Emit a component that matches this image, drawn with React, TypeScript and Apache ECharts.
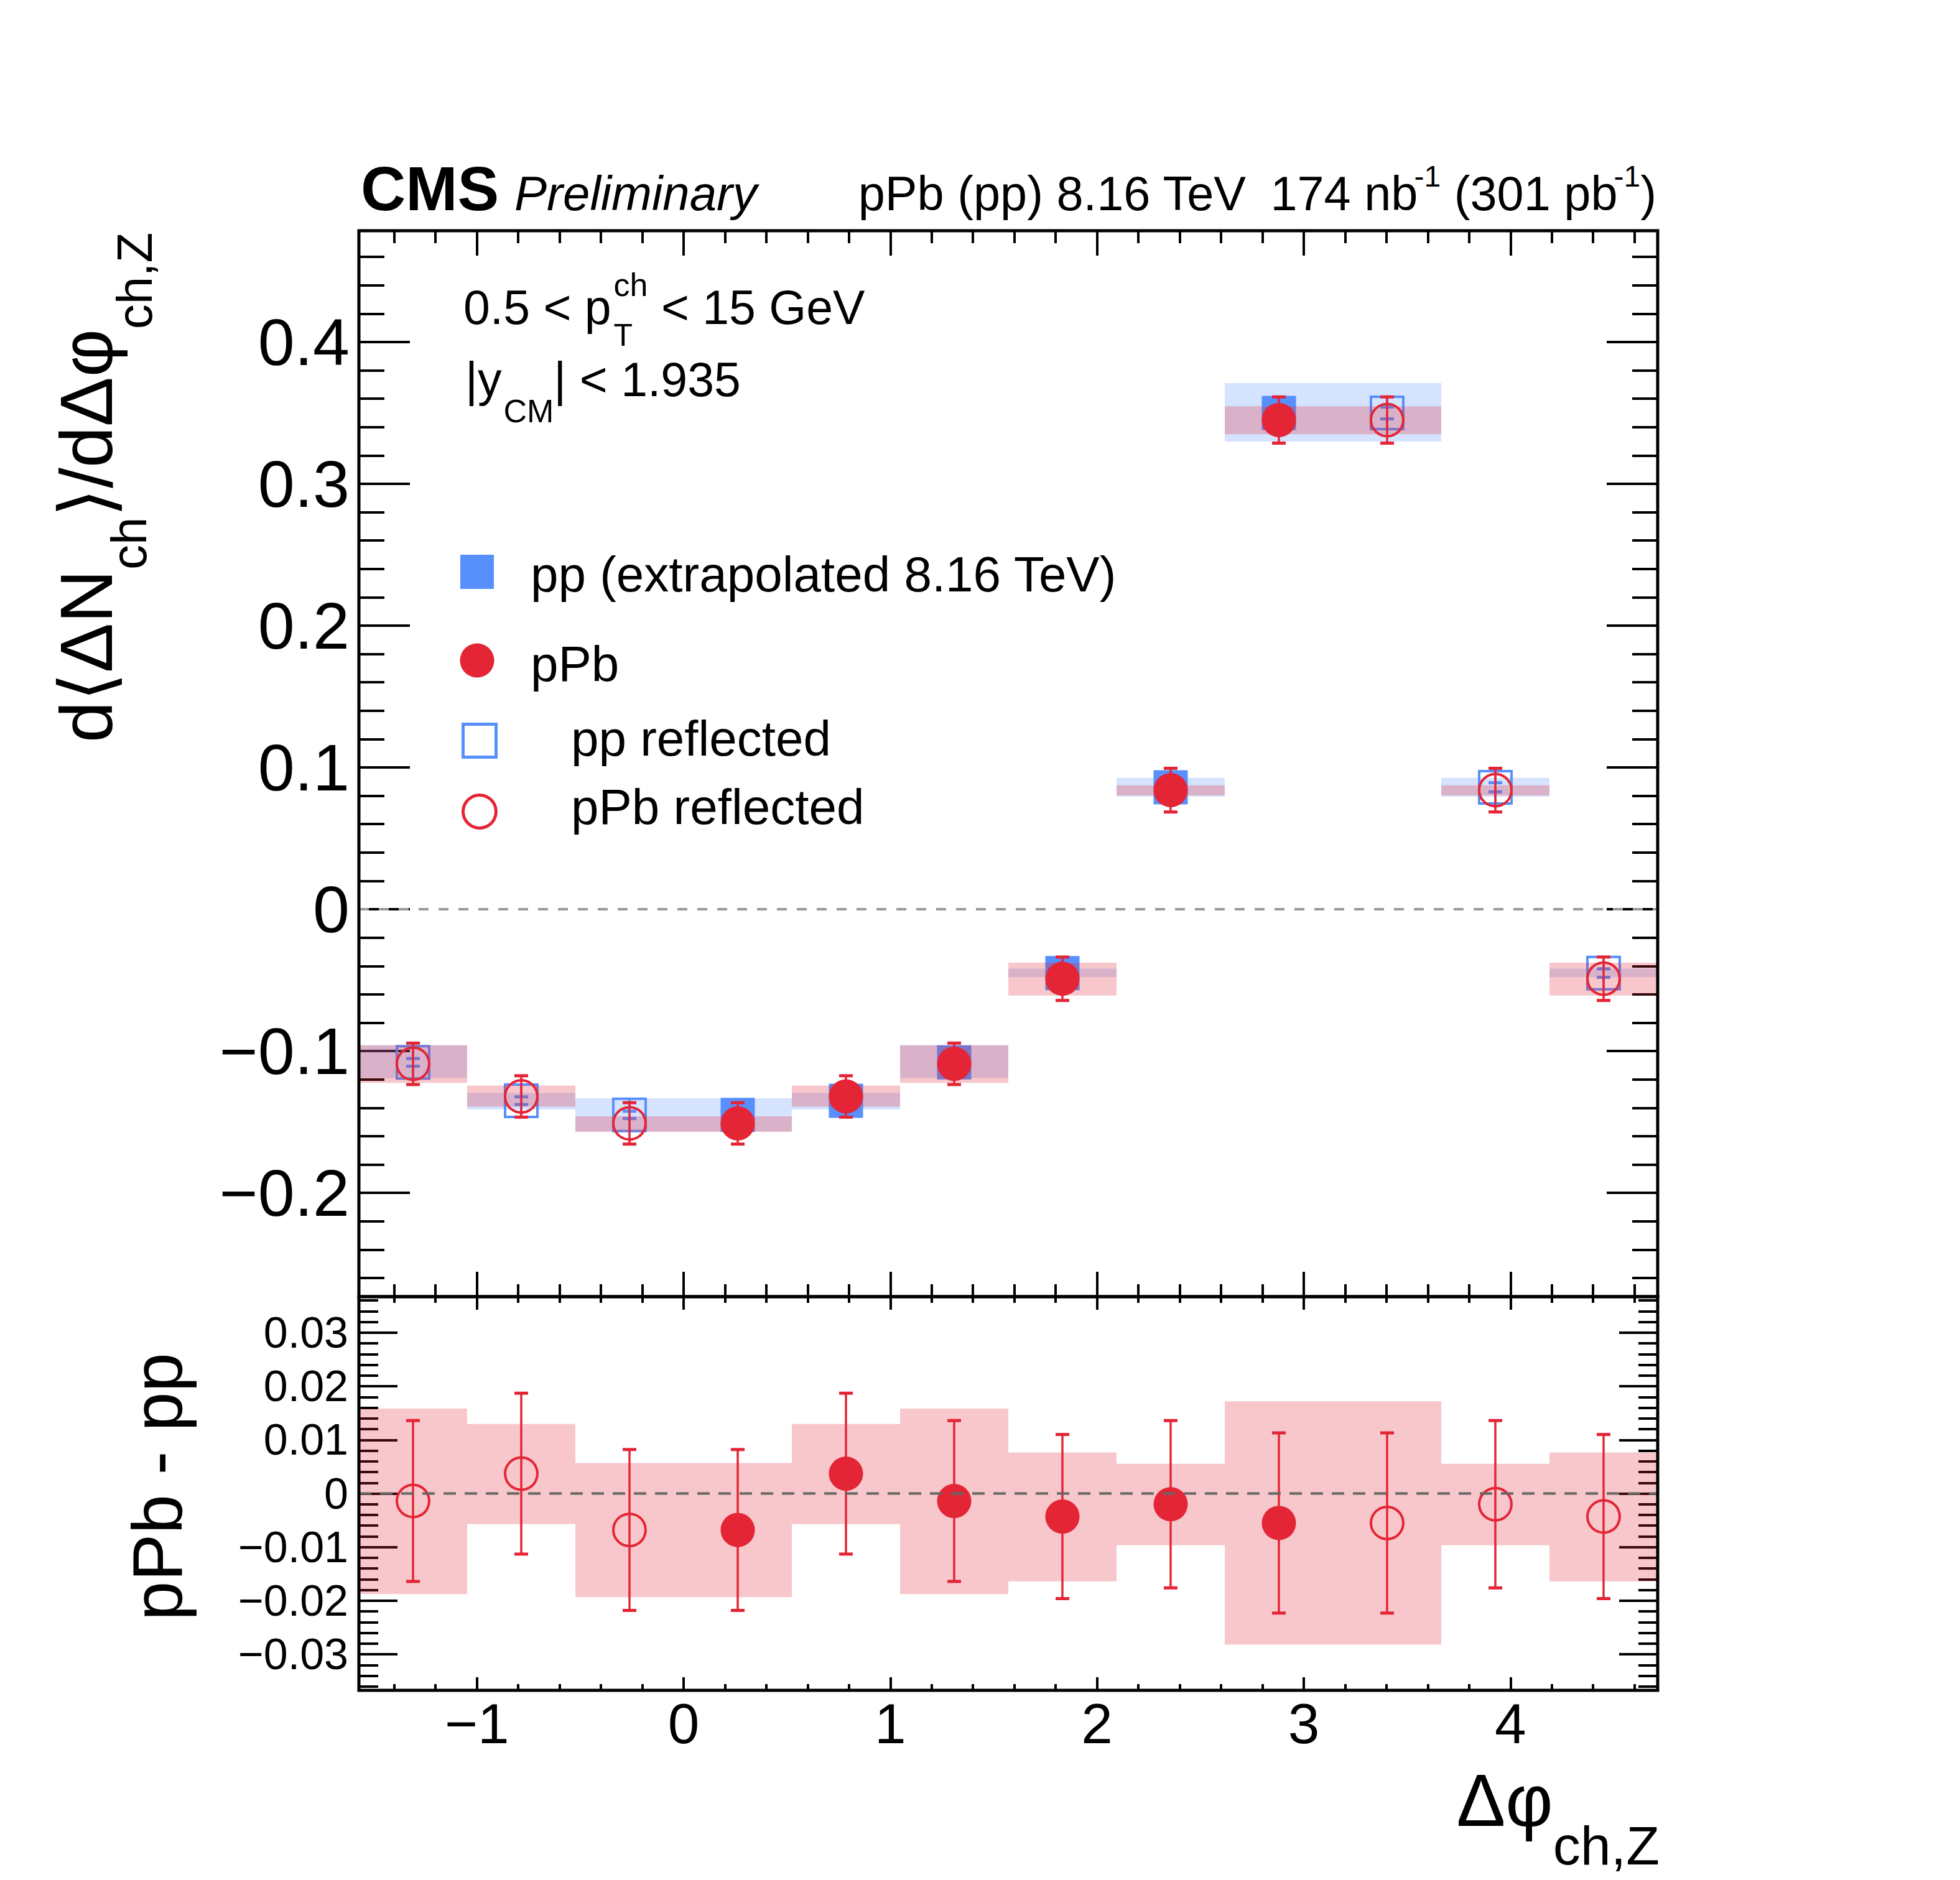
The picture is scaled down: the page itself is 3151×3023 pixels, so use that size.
import { useEffect, useRef } from "react";
import * as echarts from "echarts";

const FONT = '"Liberation Sans", Arial, Helvetica, "DejaVu Sans", sans-serif';
const BLUE = "#5790fc";
const RED = "#e42536";
const BLUE_BAND = "rgba(87,144,252,0.25)";
const RED_BAND = "rgba(228,37,54,0.26)";

const W = 3151;
const H = 3023;
const XMIN = -Math.PI / 2;
const XMAX = (3 * Math.PI) / 2;

// 12 bins of width pi/6
const binEdges = [-1.5708, -1.0472, -0.5236, 0, 0.5236, 1.0472, 1.5708, 2.0944, 2.618, 3.1416, 3.6652, 4.1888, 4.7124];
const reflected = [true, true, true, false, false, false, false, false, false, true, true, true];

// top panel: pp (extrapolated)
const ppValue = [-0.108, -0.135, -0.145, -0.145, -0.135, -0.108, -0.045, 0.086, 0.35, 0.35, 0.086, -0.045];
const ppStat = [0.0027, 0.0027, 0.0026, 0.0026, 0.0027, 0.0027, 0.003, 0.0032, 0.0042, 0.0042, 0.0032, 0.003];
const ppSysLow = [-0.119, -0.1412, -0.1566, -0.1566, -0.1412, -0.119, -0.0479, 0.0794, 0.3298, 0.3298, 0.0794, -0.0479];
const ppSysHigh = [-0.0959, -0.1295, -0.1333, -0.1333, -0.1295, -0.0959, -0.0419, 0.0927, 0.371, 0.371, 0.0927, -0.0419];

// top panel: pPb
const pPbValue = [-0.109, -0.132, -0.151, -0.151, -0.132, -0.109, -0.049, 0.084, 0.345, 0.345, 0.084, -0.049];
const pPbStat = [0.0146, 0.0146, 0.0146, 0.0146, 0.0146, 0.0146, 0.0153, 0.0154, 0.0163, 0.0163, 0.0154, 0.0153];
const pPbSysLow = [-0.1224, -0.1392, -0.157, -0.157, -0.1392, -0.1224, -0.0608, 0.0803, 0.335, 0.335, 0.0803, -0.0608];
const pPbSysHigh = [-0.0959, -0.1243, -0.146, -0.146, -0.1243, -0.0959, -0.0377, 0.0874, 0.3547, 0.3547, 0.0874, -0.0377];

// bottom panel: pPb - pp
const diffValue = [-0.0014, 0.0037, -0.0068, -0.0068, 0.0037, -0.0014, -0.0043, -0.002, -0.0055, -0.0055, -0.002, -0.0043];
const diffStat = [0.015, 0.015, 0.015, 0.015, 0.015, 0.015, 0.0153, 0.0156, 0.0168, 0.0168, 0.0156, 0.0153];
const diffSysLow = [-0.01875, -0.00572, -0.01935, -0.01935, -0.00572, -0.01875, -0.01638, -0.00965, -0.02819, -0.02819, -0.00965, -0.01638];
const diffSysHigh = [0.01583, 0.01297, 0.00568, 0.00568, 0.01297, 0.01583, 0.00764, 0.00553, 0.01718, 0.01718, 0.00553, 0.00764];

const xTicks = [-1, 0, 1, 2, 3, 4];
const topYTicks = [-0.2, -0.1, 0, 0.1, 0.2, 0.3, 0.4];
const botYTicks = [-0.03, -0.02, -0.01, 0, 0.01, 0.02, 0.03];

function minors(from: number, to: number, step: number, majors: number[]) {
  const out: number[] = [];
  const n = Math.round((to - from) / step);
  for (let i = 0; i <= n; i++) {
    const v = +(from + i * step).toFixed(6);
    if (!majors.some((m) => Math.abs(m - v) < step / 10)) out.push(v);
  }
  return out;
}
const xMinor = minors(-1.4, 4.6, 0.2, xTicks);
const topYMinor = minors(-0.26, 0.46, 0.02, topYTicks);
const botYMinor = minors(-0.036, 0.036, 0.002, botYTicks);

// layout (px)
const G0 = { left: 577, top: 371, width: 2088, height: 1714 };
const G1 = { left: 577, top: 2085, width: 2088, height: 633 };
const RIGHT = G0.left + G0.width;

const fmt = (dec: number) => (v: number) => {
  if (Math.abs(v) < 1e-9) return "0";
  const s = Math.abs(v).toFixed(dec);
  return v < 0 ? "\u2212" + s : s;
};

let ctx: CanvasRenderingContext2D | null = null;
function measure(t: string, font: string) {
  if (!ctx) ctx = document.createElement("canvas").getContext("2d");
  if (!ctx) return t.length * 20;
  ctx.font = font;
  return ctx.measureText(t).width;
}

type Seg = { t: string; size: number; dy?: number; dx?: number; weight?: string; style?: string; noAdvance?: boolean };
function textRun(segs: Seg[], x: number, y: number, rotation = 0, alignRight = false) {
  let cx = 0;
  const children = segs.map((s) => {
    const weight = s.weight ?? "normal";
    const style = s.style ?? "normal";
    const w = measure(s.t, `${style} ${weight} ${s.size}px ${FONT}`);
    const el = {
      type: "text",
      x: cx + (s.dx ?? 0),
      y: (s.dy ?? 0) - 0.35 * s.size,
      style: {
        text: s.t, fontSize: s.size, fontFamily: FONT, fontWeight: weight, fontStyle: style,
        fill: "#000", align: "left", verticalAlign: "middle",
      },
    };
    if (!s.noAdvance) cx += w + (s.dx ?? 0);
    return el;
  });
  if (alignRight) children.forEach((c) => (c.x -= cx));
  return { type: "group", x, y, rotation, z: 100, children };
}

function axisX(grid: number, position: string, ticks: number[], len: number, label?: any) {
  return {
    type: "value", gridIndex: grid, position, min: XMIN, max: XMAX,
    axisLine: { show: false, onZero: false },
    splitLine: { show: false },
    axisTick: { show: true, inside: true, length: len, customValues: ticks, lineStyle: { color: "#000", width: 4 } },
    axisLabel: label ?? { show: false },
  };
}
function axisY(grid: number, position: string, min: number, max: number, ticks: number[], len: number, label?: any) {
  return {
    type: "value", gridIndex: grid, position, min, max,
    axisLine: { show: false, onZero: false },
    splitLine: { show: false },
    axisTick: { show: true, inside: true, length: len, customValues: ticks, lineStyle: { color: "#000", width: 4 } },
    axisLabel: label ?? { show: false },
  };
}

const centers = binEdges.slice(0, -1).map((e, i) => (e + binEdges[i + 1]) / 2);

function bands(lows: number[], highs: number[], fill: string, ax: number, z: number) {
  return {
    type: "custom", xAxisIndex: ax, yAxisIndex: ax, z, silent: true,
    data: lows.map((lo, i) => [binEdges[i], binEdges[i + 1], lo, highs[i]]),
    renderItem: (_p: any, api: any) => {
      const a = api.coord([api.value(0), api.value(3)]);
      const b = api.coord([api.value(1), api.value(2)]);
      return { type: "rect", shape: { x: a[0], y: a[1], width: b[0] - a[0], height: b[1] - a[1] }, style: { fill } };
    },
  };
}

function errors(vals: number[], errs: number[], color: string, ax: number, z: number, markerHalf = 0) {
  return {
    type: "custom", xAxisIndex: ax, yAxisIndex: ax, z, silent: true,
    data: vals.map((v, i) => [centers[i], v, errs[i]]),
    renderItem: (_p: any, api: any) => {
      const x = api.value(0), y = api.value(1), e = api.value(2);
      const c = api.coord([x, y]);
      const t = api.coord([x, y + e]);
      const b = api.coord([x, y - e]);
      const ls = { stroke: color, lineWidth: 3.5 };
      const cs = { stroke: color, lineWidth: 5 };
      const children: any[] = [];
      if (markerHalf > 0) {
        children.push({ type: "line", shape: { x1: c[0], y1: c[1] - markerHalf, x2: c[0], y2: t[1] }, style: ls });
        children.push({ type: "line", shape: { x1: c[0], y1: b[1], x2: c[0], y2: c[1] + markerHalf }, style: ls });
      } else {
        children.push({ type: "line", shape: { x1: c[0], y1: t[1], x2: c[0], y2: b[1] }, style: ls });
      }
      children.push({ type: "line", shape: { x1: c[0] - 11, y1: t[1], x2: c[0] + 11, y2: t[1] }, style: cs });
      children.push({ type: "line", shape: { x1: c[0] - 11, y1: b[1], x2: c[0] + 11, y2: b[1] }, style: cs });
      return { type: "group", children };
    },
  };
}

function markers(vals: number[], open: boolean, symbol: string, color: string, ax: number, z: number) {
  const data = vals.map((v, i) => [centers[i], v]).filter((_, i) => reflected[i] === open);
  return {
    type: "scatter", xAxisIndex: ax, yAxisIndex: ax, z, silent: true, symbol,
    symbolSize: open ? 52 : 55,
    data,
    itemStyle: open
      ? { color: "rgba(0,0,0,0)", borderColor: color, borderWidth: 4, opacity: 1 }
      : { color, borderWidth: 0, opacity: 1 },
  };
}

function zeroLine(ax: number, color: string, dash: number[], z: number) {
  return {
    type: "line", xAxisIndex: ax, yAxisIndex: ax, z, silent: true, symbol: "none",
    data: [[XMIN, 0], [XMAX, 0]],
    lineStyle: { color, width: 4, type: dash },
  };
}

export default function App() {
  const ref = useRef<HTMLDivElement>(null);

  useEffect(() => {
    if (!ref.current) return;
    const chart = echarts.init(ref.current, null, { renderer: "svg" });
    const TOPMIN = -0.2732, TOPMAX = 0.4785, BOTMIN = -0.0367, BOTMAX = 0.0367;

    const option: any = {
      animation: false,
      backgroundColor: "#fff",
      grid: [
        { ...G0, show: false, outerBoundsMode: "none", containLabel: false },
        { ...G1, show: false, outerBoundsMode: "none", containLabel: false },
      ],
      xAxis: [
        axisX(0, "bottom", xTicks, 40),
        axisX(0, "bottom", xMinor, 20),
        axisX(0, "top", xTicks, 40),
        axisX(0, "top", xMinor, 20),
        axisX(1, "bottom", xTicks, 21, {
          show: true, customValues: xTicks, formatter: fmt(0), fontSize: 91, fontFamily: FONT, color: "#000", margin: 8,
        }),
        axisX(1, "bottom", xMinor, 10),
        axisX(1, "top", xTicks, 21),
        axisX(1, "top", xMinor, 10),
      ],
      yAxis: [
        axisY(0, "left", TOPMIN, TOPMAX, topYTicks, 82, {
          show: true, customValues: topYTicks, formatter: fmt(1), fontSize: 106, fontFamily: FONT, color: "#000", margin: 15,
        }),
        axisY(0, "left", TOPMIN, TOPMAX, topYMinor, 41),
        axisY(0, "right", TOPMIN, TOPMAX, topYTicks, 82),
        axisY(0, "right", TOPMIN, TOPMAX, topYMinor, 41),
        axisY(1, "left", BOTMIN, BOTMAX, botYTicks, 62, {
          show: true, customValues: botYTicks, formatter: fmt(2), fontSize: 70, fontFamily: FONT, color: "#000", margin: 17,
        }),
        axisY(1, "left", BOTMIN, BOTMAX, botYMinor, 31),
        axisY(1, "right", BOTMIN, BOTMAX, botYTicks, 62),
        axisY(1, "right", BOTMIN, BOTMAX, botYMinor, 31),
      ],
      series: [
        // top panel
        zeroLine(0, "#999", [16, 16], 1),
        bands(ppSysLow, ppSysHigh, BLUE_BAND, 0, 2),
        markers(ppValue, false, "rect", BLUE, 0, 3),
        markers(ppValue, true, "rect", BLUE, 0, 3),
        errors(ppValue, ppStat, BLUE, 0, 4, 27),
        bands(pPbSysLow, pPbSysHigh, RED_BAND, 0, 5),
        errors(pPbValue, pPbStat, RED, 0, 6),
        markers(pPbValue, false, "circle", RED, 0, 7),
        markers(pPbValue, true, "circle", RED, 0, 7),
        // bottom panel
        bands(diffSysLow, diffSysHigh, RED_BAND, 4, 2),
        errors(diffValue, diffStat, RED, 4, 3),
        markers(diffValue, false, "circle", RED, 4, 4),
        markers(diffValue, true, "circle", RED, 4, 4),
        zeroLine(4, "#666", [20, 14], 5),
      ],
      graphic: [
        // frames
        { type: "rect", z: 100, shape: { x: G0.left, y: G0.top, width: G0.width, height: G0.height }, style: { fill: "none", stroke: "#000", lineWidth: 5 } },
        { type: "rect", z: 100, shape: { x: G1.left, y: G1.top, width: G1.width, height: G1.height }, style: { fill: "none", stroke: "#000", lineWidth: 5 } },
        // header
        textRun([{ t: "CMS", size: 100, weight: "bold" }], 580, 338),
        textRun([{ t: "Preliminary", size: 78, style: "italic" }], 827, 338),
        textRun(
          [
            { t: "pPb (pp) 8.16 TeV", size: 77.5 },
            { t: "174 nb", size: 77.5, dx: 38 },
            { t: "-1", size: 48, dy: -38, dx: -6 },
            { t: " (301 pb", size: 77.5 },
            { t: "-1", size: 48, dy: -38, dx: -6 },
            { t: ")", size: 77.5 },
          ],
          RIGHT - 2, 338, 0, true
        ),
        // kinematic text
        textRun(
          [
            { t: "0.5 < p", size: 77 },
            { t: "T", size: 50, dy: 35, dx: 4, noAdvance: true },
            { t: "ch", size: 52, dy: -45, dx: 4 },
            { t: " < 15 GeV", size: 77 },
          ],
          745, 521
        ),
        textRun([{ t: "|y", size: 77 }, { t: "CM", size: 52, dy: 42, dx: 3 }, { t: "| < 1.935", size: 77 }], 748, 637),
        // legend
        { type: "rect", z: 100, shape: { x: 740, y: 892, width: 54, height: 55 }, style: { fill: BLUE } },
        { type: "circle", z: 100, shape: { cx: 767, cy: 1062, r: 27.5 }, style: { fill: RED } },
        { type: "rect", z: 100, shape: { x: 744.5, y: 1164.5, width: 53, height: 53 }, style: { fill: "none", stroke: BLUE, lineWidth: 5 } },
        { type: "circle", z: 100, shape: { cx: 771, cy: 1305, r: 26.5 }, style: { fill: "none", stroke: RED, lineWidth: 5 } },
        textRun([{ t: "pp (extrapolated 8.16 TeV)", size: 80 }], 853, 951),
        textRun([{ t: "pPb", size: 80 }], 853, 1095),
        textRun([{ t: "pp reflected", size: 80 }], 918, 1215),
        textRun([{ t: "pPb reflected", size: 80 }], 918, 1325),
        // axis titles
        textRun(
          [
            { t: "d\u27e8\u0394N", size: 119 },
            { t: "ch", size: 80, dy: 55 },
            { t: "\u27e9/d\u0394\u03c6", size: 119 },
            { t: "ch,Z", size: 80, dy: 64 },
          ],
          180, 1194, Math.PI / 2
        ),
        textRun([{ t: "pPb - pp", size: 114 }], 292, 2606, Math.PI / 2),
        textRun([{ t: "\u0394\u03c6", size: 118 }, { t: "ch,Z", size: 88, dy: 62 }], RIGHT + 3, 2936, 0, true),
      ],
    };
    chart.setOption(option);
    return () => chart.dispose();
  }, []);

  return <div ref={ref} style={{ position: "absolute", left: 0, top: 0, width: W, height: H, background: "#fff" }} />;
}
